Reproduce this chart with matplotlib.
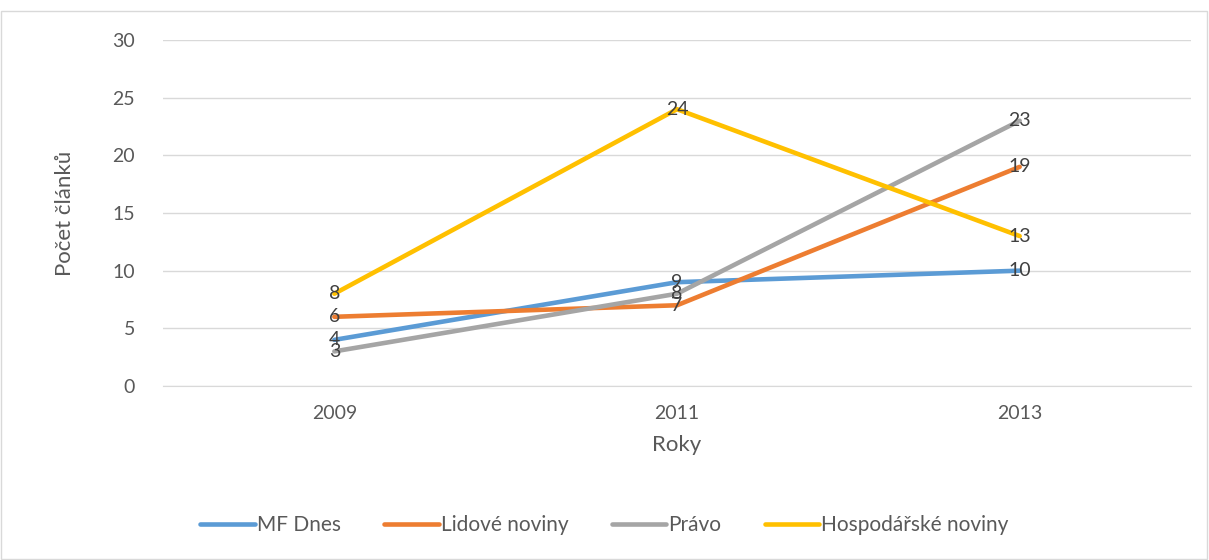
import matplotlib.pyplot as plt
from matplotlib.patches import Rectangle

# --- Data ---
years = ["2009", "2011", "2013"]
mf_dnes = [4, 9, 10]
lidove = [6, 7, 19]
pravo = [3, 8, 23]
hospodarske = [8, 24, 13]

series = [
    ("MF Dnes", mf_dnes, "#5B9BD5"),
    ("Lidové noviny", lidove, "#ED7D31"),
    ("Právo", pravo, "#A5A5A5"),
    ("Hospodářské noviny", hospodarske, "#FFC000"),
]

plt.rcParams["font.family"] = ["Lato", "DejaVu Sans"]
txt = "#595959"

W, H = 1209, 560
fig = plt.figure(figsize=(W / 100, H / 100), dpi=100)
ax = fig.add_axes([163 / W, 1 - 386 / H, (1191 - 163) / W, (386 - 40) / H])

x = list(range(len(years)))
for name, vals, col in series:
    ax.plot(x, vals, color=col, linewidth=3.3, label=name, solid_capstyle="round", zorder=3)
    for xi, v in zip(x, vals):
        ax.text(xi, v, str(v), ha="center", va="center", fontsize=14, color="#404040", zorder=4)

ax.set_xlim(-0.5, 2.5)
ax.set_ylim(0, 30)
ax.set_yticks(range(0, 31, 5))
ax.set_xticks(x)
ax.set_xticklabels(years)
ax.grid(axis="y", color="#D9D9D9", linewidth=1)
ax.set_axisbelow(True)
for s in ["top", "right", "left"]:
    ax.spines[s].set_visible(False)
ax.spines["bottom"].set_color("#D9D9D9")
ax.tick_params(length=0, labelsize=14, colors=txt)
ax.tick_params(axis="x", pad=14)
ax.tick_params(axis="y", pad=20)
ax.set_xlabel("Roky", fontsize=16, color=txt, labelpad=9)
ax.set_ylabel("Počet článků", fontsize=16, color=txt, labelpad=27)

fig.legend(loc="center", bbox_to_anchor=(0.5, 1 - 525 / H), ncol=4, frameon=False,
           fontsize=15, handlelength=2.6, handletextpad=0.1, columnspacing=2.1,
           labelcolor=txt)

fig.patches.append(Rectangle((1 / W, 1 / H), (W - 3) / W, (H - 12) / H,
                             transform=fig.transFigure, fill=False,
                             edgecolor="#D9D9D9", linewidth=1))

fig.savefig("out.png", dpi=100)
